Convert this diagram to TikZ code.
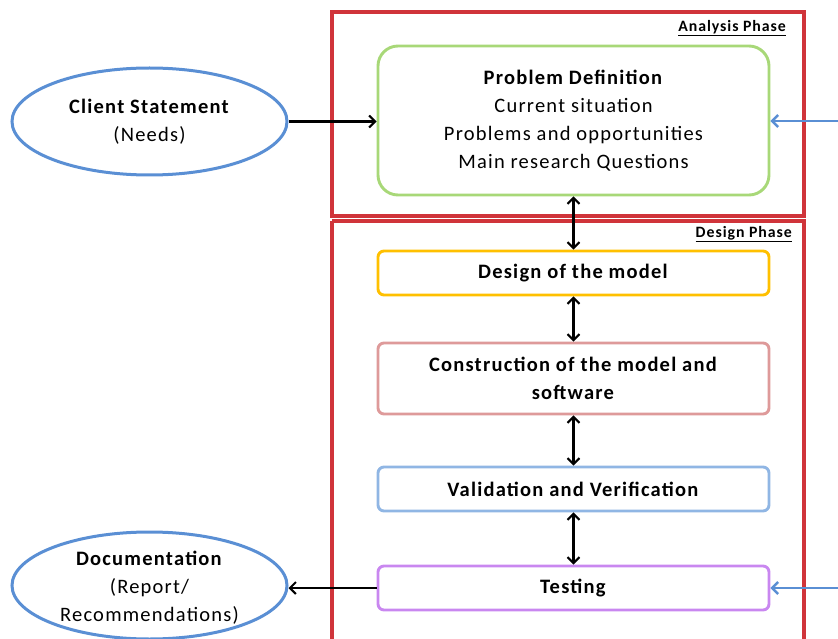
\documentclass[tikz,border=0pt]{standalone}
\usepackage{fontspec}
\setmainfont{Carlito}[LetterSpace=6]
\usetikzlibrary{arrows.meta,shapes.geometric}

\definecolor{phasered}{HTML}{D0343A}
\definecolor{defgreen}{HTML}{A8D878}
\definecolor{modelgold}{HTML}{FFC000}
\definecolor{buildpink}{HTML}{DE9A9A}
\definecolor{checkblue}{HTML}{90B6E4}
\definecolor{testviolet}{HTML}{C987F0}
\definecolor{clientblue}{HTML}{5A8FD4}

\tikzset{
  phasebox/.style={draw=phasered, line width=3.2pt},
  stagebox/.style={draw, line width=2.9pt, rounded corners=6pt, minimum width=391pt,
    align=center, inner sep=0pt, font=\fontsize{20.5}{28}\selectfont},
  oval/.style={ellipse, draw=clientblue, line width=3pt, minimum width=275pt,
    minimum height=107pt, align=center, inner sep=0pt, font=\fontsize{20.5}{28}\selectfont},
  phaselabel/.style={anchor=north east, inner sep=0pt, font=\fontsize{15.8}{18}\selectfont\bfseries},
  flow/.style={line width=2.1pt, -{Straight Barb[length=6pt,width=12pt]}},
  twoway/.style={line width=2.1pt, {Straight Barb[length=6pt,width=12pt]}-{Straight Barb[length=6pt,width=12pt]}},
  feedback/.style={draw=clientblue, line width=2.4pt, -{Straight Barb[length=6pt,width=12pt]}}
}

\begin{document}
\begin{tikzpicture}[x=1pt, y=-1pt]
\useasboundingbox (0,0) rectangle (838,639);

% phase frames
\draw[phasebox] (332,12) rectangle (804,216);
\draw[phasebox] (332,221) -- (332,660) (332,221) -- (804,221) -- (804,660);
\node[phaselabel] (analysis) at (786,20) {\underline{Analysis Phase}};
\node[phaselabel] (designph) at (792,226) {\underline{Design Phase}};

% stages
\node[stagebox, draw=defgreen, rounded corners=20pt, minimum height=149pt] (def) at (573.5,120.5)
  {\textbf{Problem Definition}\\Current situation\\Problems and opportunities\\Main research Questions};
\node[stagebox, draw=modelgold, minimum height=44pt] (design) at (573.5,273) {\textbf{Design of the model}};
\node[stagebox, draw=buildpink, minimum height=71pt] (build) at (573.5,378.5)
  {\textbf{Construction of the model and}\\\textbf{software}};
\node[stagebox, draw=checkblue, minimum height=44pt] (valid) at (573.5,489) {\textbf{Validation and Verification}};
\node[stagebox, draw=testviolet, minimum height=44pt] (test) at (573.5,588) {\textbf{Testing}};

% outside parties
\node[oval] (client) at (149.5,121.5) {\textbf{Client Statement}\\(Needs)};
\node[oval] (docs) at (149.5,585.5) {};
\node[align=center, inner sep=0pt, font=\fontsize{20.5}{28}\selectfont] (docstext) at (149.5,587.5)
  {\textbf{Documentation}\\(Report/\\Recommendations)};

% connectors
\draw[flow] (client) -- (def.west |- client);
\draw[flow] (test.west) -- (docs.east |- test.west);
\draw[twoway] (def) -- (design);
\draw[twoway] (design) -- (build);
\draw[twoway] (build) -- (valid);
\draw[twoway] (valid) -- (test);

\coordinate (inTop) at (838,121);
\coordinate (inBottom) at (838,588);
\draw[feedback] (inTop) -- (def.east |- inTop);
\draw[feedback] (inBottom) -- (test.east);
\end{tikzpicture}
\end{document}
